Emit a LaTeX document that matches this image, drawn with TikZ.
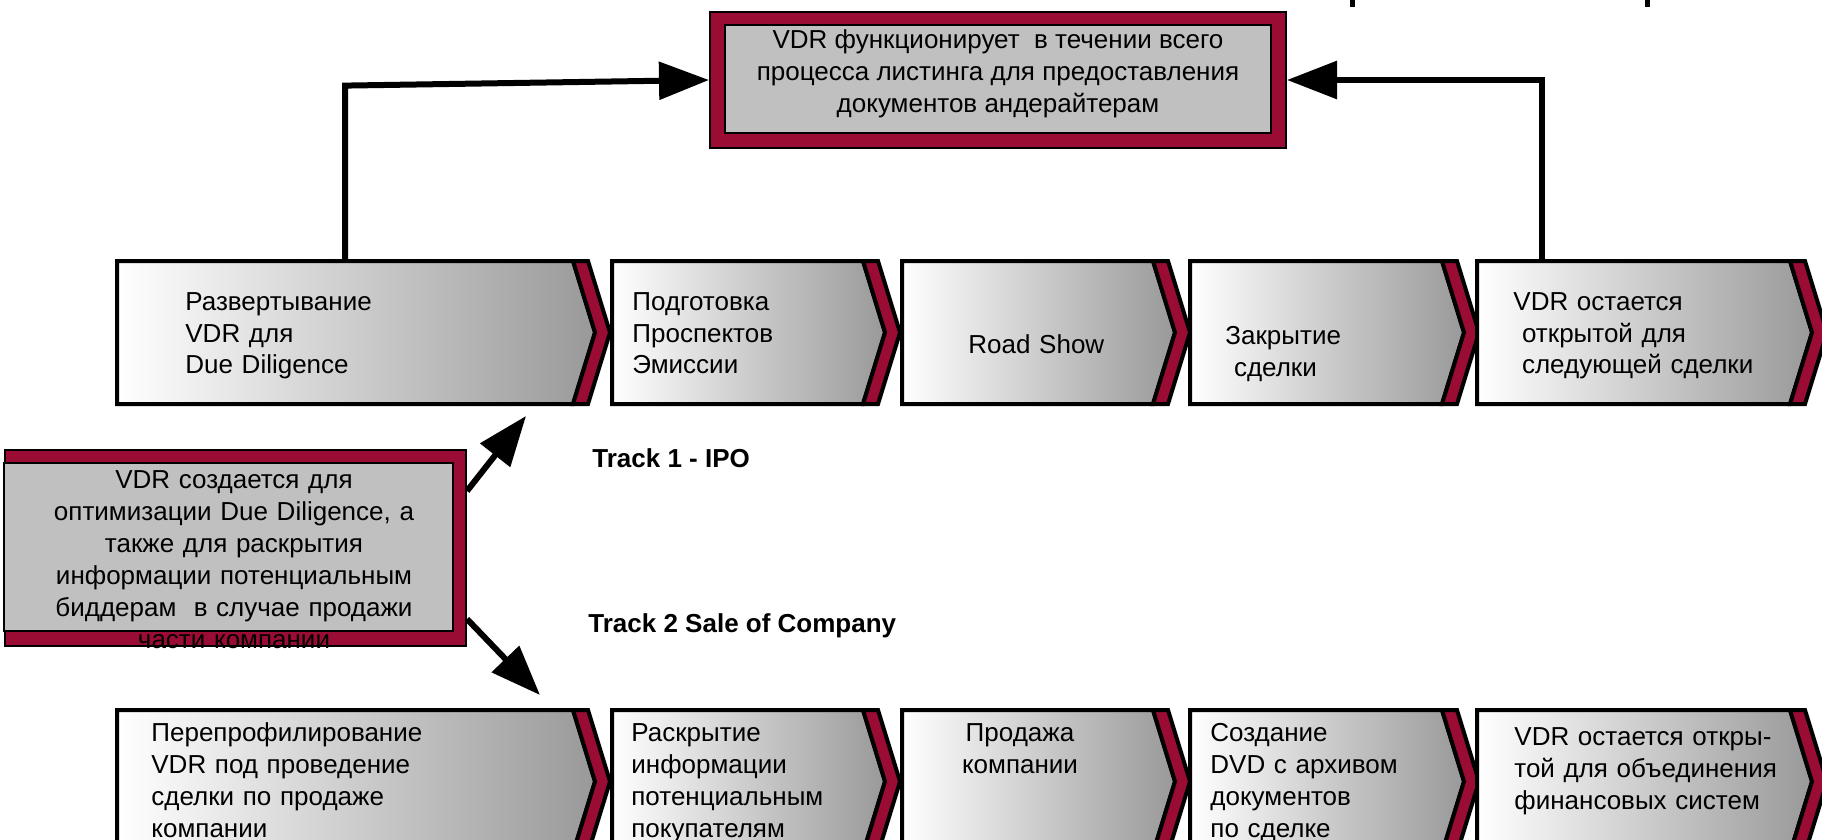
\documentclass[tikz,border=0pt]{standalone}
\usepackage{fontspec}
\setmainfont{Liberation Sans}
\usetikzlibrary{arrows.meta,calc,fit}

\definecolor{vdrred}{RGB}{154,12,52}
\definecolor{vdrgray}{RGB}{192,192,192}

\tikzset{
  stagebody/.style={draw=black, line width=2pt, left color=white, right color=black!40},
  stagetip/.style={draw=black, line width=2pt, fill=vdrred},
  stagetext/.style={anchor=base west, inner sep=0pt, text width=200pt, align=left},
  redframe/.style={draw=black, line width=1pt, fill=vdrred, inner sep=0pt},
  grayframe/.style={draw=black, line width=1pt, fill=vdrgray},
  flow/.style={line width=3pt, -{Triangle[length=25pt,width=18.5pt]}},
  tracklabel/.style={anchor=base west, inner sep=0pt, font=\fontsize{13}{16}\selectfont\bfseries}
}

% one stage of a track: name, left, right, top
\newcommand{\stage}[4]{%
  \path[stagebody] (#2,#4) -- (#3,#4) -- ++(22,71.5) -- (#3,#4+143) -- (#2,#4+143) -- cycle;
  \path[stagetip] (#3,#4) -- ++(15,0) -- ++(22,71.5) -- ++(-22,71.5) -- ++(-15,0) -- ++(22,-71.5) -- cycle;
  \node[inner sep=0pt, fit={(#2,#4) (#3,#4+143)}] (#1) {};
}

\begin{document}
\begin{tikzpicture}[x=0.5pt, y=-0.5pt, font=\fontsize{13}{16}\selectfont]
  \useasboundingbox (0,0) rectangle (1822,840);
  \clip (0,0) rectangle (1822,840);

  % listing box
  \node[redframe, minimum width=288pt, minimum height=68pt] (listing) at (998,80) {};
  \draw[grayframe] ($(listing.north west)+(16,14)$) rectangle ($(listing.south east)+(-16,-16)$);
  \node[align=center] (listingtext) at (998,74) {VDR функционирует \ в течении всего\\процесса листинга для предоставления\\документов андерайтерам};

  % track 1
  \stage{ipo1}{117}{573}{261}
  \stage{ipo2}{612}{863}{261}
  \stage{ipo3}{902}{1153}{261}
  \stage{ipo4}{1190}{1442}{261}
  \stage{ipo5}{1477}{1790}{261}
  \node[stagetext] (ipo1text) at (185,310) {Развертывание\\VDR для\\Due Diligence};
  \node[stagetext] (ipo2text) at (632,310) {Подготовка\\Проспектов\\Эмиссии};
  \node[stagetext] (ipo3text) at (968,353) {Road Show};
  \node[stagetext] (ipo4text) at (1225,344) {Закрытие\\\ сделки};
  \node[stagetext] (ipo5text) at (1513,310) {VDR остается\\\ открытой для\\\ следующей сделки};

  % track 2
  \stage{sale1}{117}{573}{710}
  \stage{sale2}{612}{863}{710}
  \stage{sale3}{902}{1153}{710}
  \stage{sale4}{1190}{1442}{710}
  \stage{sale5}{1477}{1790}{710}
  \node[stagetext] (sale1text) at (151,741) {Перепрофилирование\\VDR под проведение\\сделки по продаже\\компании};
  \node[stagetext] (sale2text) at (631,741) {Раскрытие\\информации\\потенциальным\\покупателям};
  \node[anchor=base, inner sep=0pt, text width=100pt, align=center] (sale3text) at (1020,741) {Продажа\\компании};
  \node[stagetext] (sale4text) at (1210,741) {Создание\\DVD с архивом\\документов\\по сделке};
  \node[stagetext] (sale5text) at (1514,745) {VDR остается откры-\\той для объединения\\финансовых систем};

  % start box
  \node[redframe, minimum width=230.5pt, minimum height=98pt] (create) at (235.5,548) {};
  \draw[grayframe] ($(create.north west)+(0,14)$) rectangle ($(create.south east)+(-14,-16)$);
  \node[anchor=base, inner sep=0pt, text width=230pt, align=center] (createtext) at (234,488) {VDR создается для\\оптимизации Due Diligence, а\\также для раскрытия\\информации потенциальным\\биддерам \ в случае продажи\\части компании};

  \node[tracklabel] (track1) at (592,467) {Track 1 - IPO};
  \node[tracklabel] (track2) at (588,632) {Track 2 Sale of Company};

  % connectors
  \coordinate (ipoend) at (526,416);
  \coordinate (saleend) at (540,695);
  \draw[flow] ($(create.north east)+(0,42)$) -- (ipoend);
  \draw[flow] ($(create.south east)+(0,-28)$) -- (saleend);
  \draw[flow] (ipo1.north) -- ++(0,-175) -- (listing.west);
  \draw[flow] ($(ipo5.north west)+(65,0)$) |- (listing.east);

  % cut marks at the top edge
  \draw[line width=2.5pt] (1352,0) -- (1352,7);
  \draw[line width=2.5pt] (1647,0) -- (1647,7);
\end{tikzpicture}
\end{document}
